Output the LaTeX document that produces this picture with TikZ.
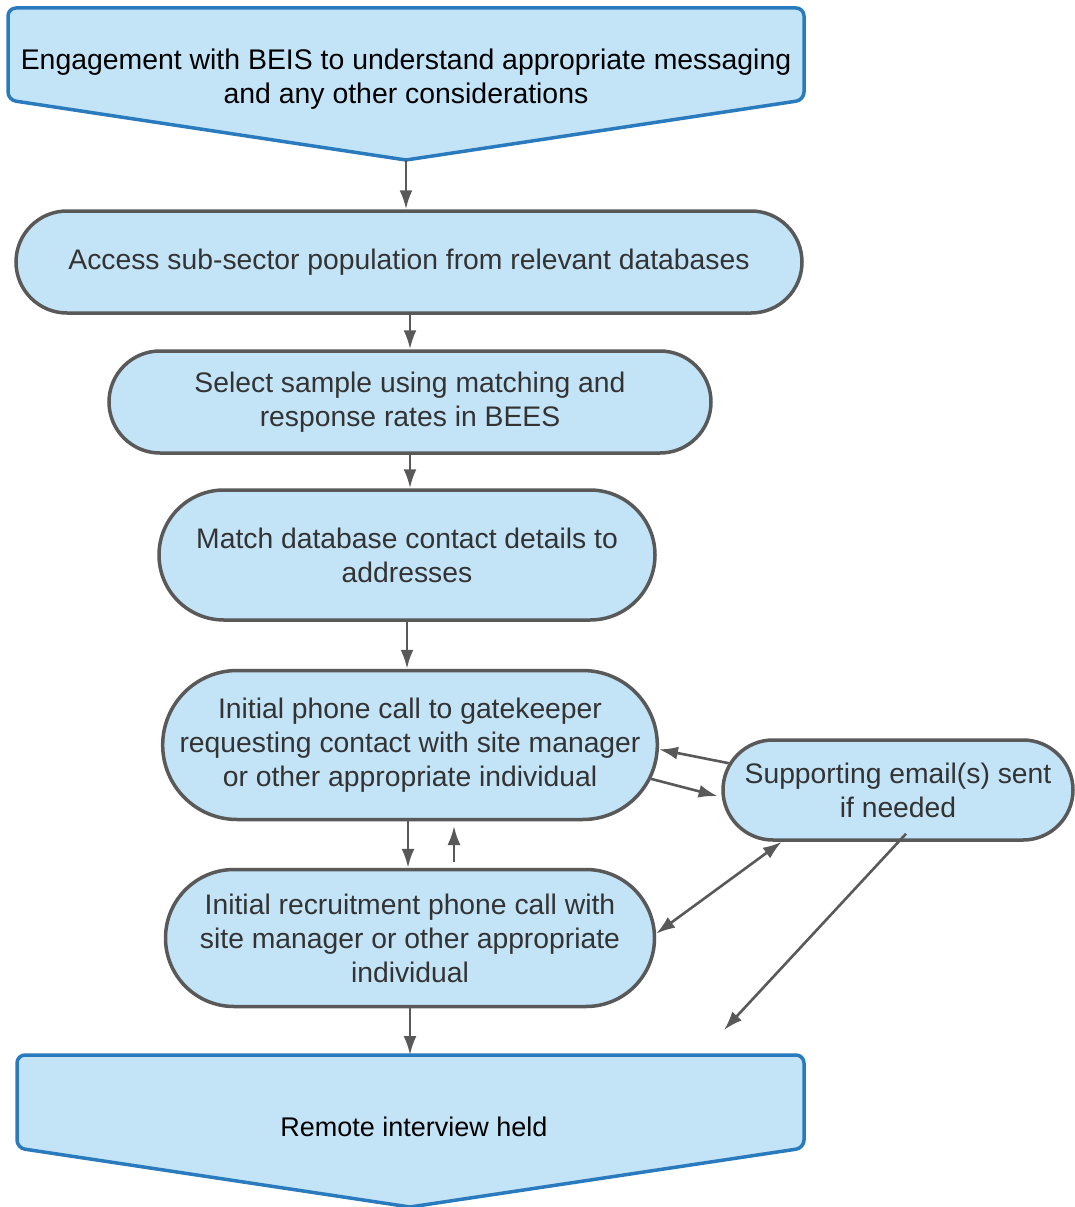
\documentclass[tikz,border=0pt]{standalone}
\usepackage{fontspec}
\setmainfont{Liberation Sans}
\usetikzlibrary{arrows.meta,shapes.misc}
\definecolor{fillblue}{HTML}{C3E3F7}
\definecolor{edgeblue}{HTML}{2A7BBE}
\definecolor{edgegray}{HTML}{595959}
\definecolor{txtgray}{HTML}{333333}
\begin{document}
\begin{tikzpicture}[x=1pt,y=-1pt,
  stadium/.style={rounded rectangle, draw=edgegray, line width=3.5pt, fill=fillblue,
    text=txtgray, align=center, inner sep=0pt, font=\fontsize{28.3}{34}\selectfont},
  pent/.style={draw=edgeblue, line width=3.5pt, fill=fillblue, rounded corners=8pt},
  penttext/.style={align=center, text=black, inner sep=0pt, font=\fontsize{28.4}{34}\selectfont},
  flow/.style={draw=edgegray, line width=2.6pt, -{Latex[length=19pt,width=13pt]}},
  flowboth/.style={draw=edgegray, line width=2.6pt, {Latex[length=19pt,width=13pt]}-{Latex[length=19pt,width=13pt]}},
]
\useasboundingbox (0,0) rectangle (1074,1207);

% top pentagon
\path[pent] (8,8) -- (804,8) -- (804,100) [sharp corners] -- (406,160) [rounded corners=8pt] -- (8,100) -- cycle;
\node[penttext] (top) at (406,79) {Engagement with BEIS to understand appropriate messaging\\and any other considerations};
\coordinate (toptip) at (406,160);

% bottom pentagon
\path[pent] (17,1055) -- (804,1055) -- (804,1148) [sharp corners] -- (410,1207) [rounded corners=8pt] -- (17,1148) -- cycle;
\node[penttext, font=\fontsize{27}{34}\selectfont] (bot) at (414,1127) {Remote interview held};
\coordinate (bottop) at (410,1055);

% stadiums
\node[stadium, minimum width=786pt, minimum height=102pt] (n1) at (409,262) {Access sub-sector population from relevant databases};
\node[stadium, minimum width=602pt, minimum height=102pt] (n2) at (410,402) {Select sample using matching and\\response rates in BEES};
\node[stadium, minimum width=496pt, minimum height=130pt] (n3) at (407,555) {Match database contact details to\\addresses};
\node[stadium, minimum width=489pt, minimum height=149pt] (n4) at (410,745) {Initial phone call to gatekeeper\\requesting contact with site manager\\or other appropriate individual};
\node[stadium, minimum width=350pt, minimum height=100pt] (n5) at (898,790) {Supporting email(s) sent\\if needed};
\node[stadium, minimum width=489pt, minimum height=137pt] (n6) at (410,938) {Initial recruitment phone call with\\site manager or other appropriate\\individual};

% main flow
\draw[flow] (toptip) -- (toptip |- n1.north);
\draw[flow] (n2.north |- n1.south) -- (n2.north);
\draw[flow] (n2.south) -- (n2.south |- n3.north);
\draw[flow] (n3.south) -- (n3.south |- n4.north);
\draw[flow] ([xshift=-2pt]n4.south) -- ([xshift=-2pt]n6.north);
\draw[flow] (n6.south) -- (n6.south |- bottop);

% small up arrow
\coordinate (ua1) at (454,862);
\coordinate (ua2) at (454,826);
\draw[flow] (ua1) -- (ua2);

% side connections
\draw[flow] (n5.171) -- (n4.-1);
\draw[flow] (n4.-8) -- ([xshift=-4pt]n5.182);
\draw[flowboth] (n5.204) -- (n6.1);
\coordinate (free) at (724,1030);
\draw[flow] ([xshift=8pt,yshift=8pt]n5.south) -- (free);
\end{tikzpicture}
\end{document}
